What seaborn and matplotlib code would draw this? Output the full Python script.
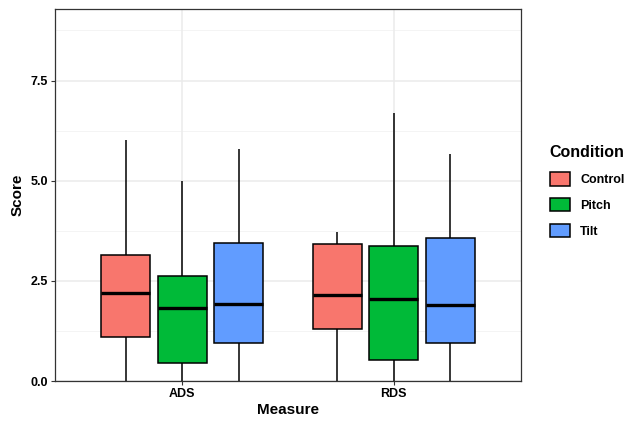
import pandas as pd
import numpy as np
import matplotlib
matplotlib.use('Agg')
import matplotlib.pyplot as plt
import seaborn as sns
from matplotlib.patches import Patch

sns.set_theme(style='white')
plt.rcParams['font.family'] = ['Liberation Sans', 'DejaVu Sans']
plt.rcParams['text.color'] = 'black'
plt.rcParams['axes.labelcolor'] = 'black'

# five-number summaries: min, q1, median, q3, max
measures = ['ADS', 'RDS']
conditions = ['Control', 'Pitch', 'Tilt']
ads_control = [0.0, 1.09, 2.19, 3.14, 6.02]
ads_pitch = [0.0, 0.45, 1.82, 2.62, 5.00]
ads_tilt = [0.0, 0.95, 1.92, 3.45, 5.78]
rds_control = [0.0, 1.30, 2.15, 3.42, 3.72]
rds_pitch = [0.0, 0.53, 2.05, 3.37, 6.68]
rds_tilt = [0.0, 0.96, 1.91, 3.57, 5.66]
colors = ['#F8766D', '#00BA38', '#619CFF']

groups = {
    ('ADS', 'Control'): ads_control, ('ADS', 'Pitch'): ads_pitch, ('ADS', 'Tilt'): ads_tilt,
    ('RDS', 'Control'): rds_control, ('RDS', 'Pitch'): rds_pitch, ('RDS', 'Tilt'): rds_tilt,
}
rows = []
for (m, c), vals in groups.items():
    for v in vals:
        rows.append({'Measure': m, 'Condition': c, 'Score': v})
df = pd.DataFrame(rows)

fig = plt.figure(figsize=(6.26, 4.22), dpi=100)
ax = fig.add_axes([0.088, 0.097, 0.744, 0.882])

# ggplot-like grid
for y in [1.25, 3.75, 6.25, 8.75]:
    ax.axhline(y, color='#F2F2F2', lw=0.6, zorder=0)
for y in [0, 2.5, 5.0, 7.5]:
    ax.axhline(y, color='#EBEBEB', lw=1.1, zorder=0)
for x in [0, 1]:
    ax.axvline(x, color='#EBEBEB', lw=1.1, zorder=0)

sns.boxplot(data=df, x='Measure', y='Score', hue='Condition', order=measures,
            hue_order=conditions, palette=colors, saturation=1, width=0.8, gap=0.13,
            whis=np.inf, linecolor='black', linewidth=1.1, fliersize=0,
            medianprops={'linewidth': 2.4, 'color': 'black'},
            whiskerprops={'linewidth': 1.1}, capprops={'linewidth': 0},
            legend=False, ax=ax, zorder=2)

ax.set_xlim(-0.6, 1.6)
ax.set_ylim(0, 9.29)
ax.set_yticks([0, 2.5, 5.0, 7.5])
ax.set_yticklabels(['0.0', '2.5', '5.0', '7.5'])
ax.tick_params(axis='both', length=3, width=0.8, color='#333333', labelsize=9,
               labelcolor='black', pad=2, left=True, bottom=True)
for lab in ax.get_xticklabels() + ax.get_yticklabels():
    lab.set_fontweight('bold')
ax.set_xlabel('Measure', fontsize=11, fontweight='bold', labelpad=2, color='black')
ax.set_ylabel('Score', fontsize=11, fontweight='bold', labelpad=4, color='black')
for s in ax.spines.values():
    s.set_color('#333333')
    s.set_linewidth(0.9)

handles = [Patch(facecolor=col, edgecolor='black', linewidth=1.1, label=c)
           for c, col in zip(conditions, colors)]
leg = fig.legend(handles=handles, title='Condition', loc='upper left',
                 bbox_to_anchor=(0.862, 0.68), frameon=False,
                 prop={'weight': 'bold', 'size': 9}, handlelength=1.6,
                 handleheight=1.3, labelspacing=0.95, handletextpad=0.85,
                 borderpad=0.3)
leg.get_title().set_fontweight('bold')
leg.get_title().set_fontsize(11.5)
leg._legend_box.align = 'left'

fig.savefig('out.png', dpi=100)
